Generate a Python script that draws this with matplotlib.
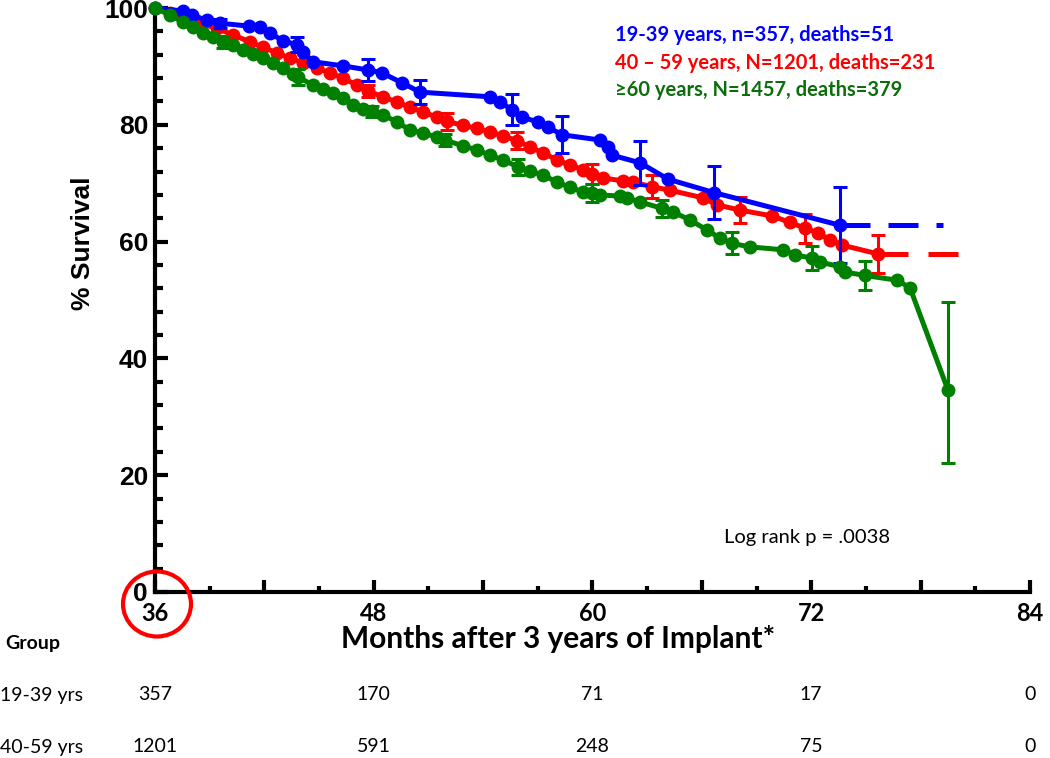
import matplotlib
matplotlib.use("Agg")
import matplotlib.pyplot as plt
from matplotlib.patches import Ellipse
import matplotlib.transforms as mtransforms

# survival curves (months, % survival)
blue_t = [36.0, 37.54, 38.03, 38.85, 39.57, 41.16, 41.76, 42.31, 43.02, 43.79, 44.12, 44.67,
          46.31, 47.68, 48.45, 49.55, 50.54, 54.38, 54.92, 55.58, 56.13, 57.01, 57.56, 58.33,
          60.41, 60.85, 61.07, 62.61, 64.14, 66.66, 73.58]
blue_s = [100, 99.5, 98.8, 97.9, 97.4, 96.9, 96.7, 95.7, 94.4, 93.7, 92.5, 90.8,
          90.1, 89.4, 88.9, 87.2, 85.6, 84.8, 83.9, 82.6, 81.3, 80.5, 79.6, 78.3,
          77.4, 76.2, 74.8, 73.5, 70.7, 68.4, 62.8]
blue_end = 79.23

red_t = [36.0, 36.82, 37.54, 38.47, 39.40, 40.28, 41.21, 41.92, 42.69, 43.41, 44.12, 44.89,
         45.60, 46.31, 47.08, 47.68, 48.51, 49.27, 49.99, 50.70, 51.47, 52.02, 52.90, 53.66,
         54.38, 55.09, 55.86, 56.57, 57.28, 58.05, 58.76, 59.48, 59.97, 60.58, 61.67, 62.22,
         63.26, 64.25, 66.06, 66.83, 68.09, 69.85, 70.83, 71.66, 72.37, 73.03, 73.69, 75.66]
red_s = [100, 99.1, 98.2, 97.4, 96.5, 95.4, 94.2, 93.3, 92.3, 91.4, 90.6, 89.7,
         88.9, 88.0, 86.8, 85.8, 84.8, 83.9, 83.0, 82.2, 81.3, 80.6, 79.9, 79.4,
         78.8, 78.1, 77.3, 76.2, 75.2, 74.0, 73.1, 72.3, 71.6, 70.9, 70.4, 70.2,
         69.4, 68.8, 67.5, 66.3, 65.4, 64.4, 63.3, 62.3, 61.5, 60.3, 59.4, 57.9]
red_end = 80.05

green_t = [36.0, 36.82, 37.54, 38.08, 38.63, 39.18, 39.73, 40.28, 40.83, 41.38, 41.92, 42.47,
           43.02, 43.57, 43.84, 44.67, 45.22, 45.76, 46.31, 46.86, 47.41, 47.90, 48.51, 49.27,
           49.99, 50.70, 51.47, 51.91, 52.90, 53.66, 54.38, 55.09, 55.91, 56.57, 57.28, 58.05,
           58.76, 59.48, 59.97, 60.41, 61.51, 61.89, 62.61, 63.81, 64.41, 65.35, 66.28, 66.99,
           67.65, 68.64, 70.45, 71.11, 72.04, 72.48, 73.58, 73.85, 74.95, 76.70, 77.42, 79.50]
green_s = [100, 98.8, 97.6, 96.7, 95.7, 95.0, 94.2, 93.7, 92.8, 92.1, 91.4, 90.6,
           89.7, 88.7, 88.2, 86.8, 86.1, 85.4, 84.6, 83.4, 82.7, 82.3, 81.7, 80.5,
           79.1, 78.6, 77.9, 77.4, 76.4, 75.7, 74.8, 74.0, 72.8, 72.1, 71.4, 70.2,
           69.3, 68.5, 68.3, 68.0, 67.8, 67.5, 66.8, 65.7, 65.1, 63.7, 62.0, 60.6,
           59.7, 59.1, 58.6, 57.7, 57.2, 56.5, 55.7, 54.8, 54.2, 53.4, 52.1, 34.6]

# error bars (month, value, lower, upper)
blue_err_t = [39.57, 43.79, 47.68, 50.54, 55.58, 58.33, 62.61, 66.66, 73.58]
blue_err_s = [97.4, 93.7, 89.4, 85.6, 82.6, 78.3, 73.5, 68.4, 62.8]
blue_err_lo = [0.8, 1.3, 1.9, 2.1, 2.7, 3.2, 3.8, 4.5, 6.5]
blue_err_hi = [0.8, 1.3, 1.9, 2.1, 2.7, 3.2, 3.8, 4.5, 6.5]

red_err_t = [47.68, 52.02, 55.86, 59.97, 63.26, 68.09, 71.66, 75.66]
red_err_s = [85.8, 80.6, 77.3, 71.6, 69.4, 65.4, 62.3, 57.9]
red_err_lo = [1.1, 1.5, 1.5, 1.7, 2.0, 2.2, 2.5, 3.2]
red_err_hi = [1.1, 1.5, 1.5, 1.7, 2.0, 2.2, 2.5, 3.2]

green_err_t = [39.73, 43.84, 47.90, 51.91, 55.91, 59.97, 63.81, 67.65, 72.04, 74.95, 79.50]
green_err_s = [94.2, 88.2, 82.3, 77.4, 72.8, 68.3, 65.7, 59.7, 57.2, 54.2, 34.6]
green_err_lo = [1.0, 1.4, 0.9, 1.0, 1.4, 1.5, 1.5, 1.9, 2.0, 2.4, 12.5]
green_err_hi = [1.0, 1.4, 0.9, 1.0, 1.4, 1.5, 1.5, 1.9, 2.0, 2.4, 15.1]

legend_lines = ["19-39 years, n=357, deaths=51",
                "40 \u2013 59 years, N=1201, deaths=231",
                "\u226560 years, N=1457, deaths=379"]

# numbers at risk
risk_months = [36, 48, 60, 72, 84]
risk_1939 = ["357", "170", "71", "17", "0"]
risk_4059 = ["1201", "591", "248", "75", "0"]

BLUE = "#0000FF"
RED = "#FF0000"
GREEN = "#008000"
LEG_GREEN = "#0B6E0B"

fig = plt.figure(figsize=(10.5, 7.58), dpi=100)
ax = fig.add_axes([0.1476, 0.2190, 0.8333, 0.7704])

lw = 3.6
ms = 9
ax.plot(red_t, red_s, "-o", color=RED, lw=lw, ms=ms, zorder=2, clip_on=False)
ax.plot([red_t[-1], red_end], [red_s[-1], red_s[-1]], color=RED, lw=lw,
        dashes=(6.0, 4.0), zorder=2, clip_on=False)
ax.errorbar(red_err_t, red_err_s, yerr=[red_err_lo, red_err_hi], fmt="none",
            ecolor=RED, elinewidth=2.2, capsize=5, capthick=2.2, zorder=2)

ax.plot(blue_t, blue_s, "-o", color=BLUE, lw=lw, ms=ms, zorder=3, clip_on=False)
ax.plot([blue_t[-1], blue_end], [blue_s[-1], blue_s[-1]], color=BLUE, lw=lw,
        dashes=(6.0, 3.6), zorder=3, clip_on=False)
ax.errorbar(blue_err_t, blue_err_s, yerr=[blue_err_lo, blue_err_hi], fmt="none",
            ecolor=BLUE, elinewidth=2.2, capsize=5, capthick=2.2, zorder=3)

ax.plot(green_t, green_s, "-o", color=GREEN, lw=lw, ms=ms, zorder=4, clip_on=False)
ax.errorbar(green_err_t, green_err_s, yerr=[green_err_lo, green_err_hi], fmt="none",
            ecolor=GREEN, elinewidth=2.2, capsize=5, capthick=2.2, zorder=4)

ax.set_xlim(36, 84)
ax.set_ylim(0, 100)
for s in ["top", "right"]:
    ax.spines[s].set_visible(False)
for s in ["left", "bottom"]:
    ax.spines[s].set_linewidth(3)

ax.set_yticks([0, 20, 40, 60, 80, 100])
ax.set_yticks(range(0, 101, 4), minor=True)
ax.set_xticks(range(36, 85, 6))
ax.set_xticklabels([str(m) if m % 12 == 0 else "" for m in range(36, 85, 6)])
ax.set_xticks(range(39, 85, 6), minor=True)
ax.tick_params(axis="both", which="major", direction="in", width=3, length=9)
ax.tick_params(axis="x", which="minor", direction="in", width=3, length=4.5)
ax.tick_params(axis="y", which="minor", direction="in", width=3, length=6)
ax.tick_params(axis="y", pad=5)
ax.tick_params(axis="x", pad=7.5)
for lab in ax.get_yticklabels():
    lab.set_fontfamily("Liberation Sans")
    lab.set_fontweight("bold")
    lab.set_fontsize(19)
for lab in ax.get_xticklabels():
    lab.set_fontfamily("Lato")
    lab.set_fontweight("bold")
    lab.set_fontsize(17)

fig.text(83 / 1050, 1 - 243 / 758, "% Survival", rotation=90, ha="center", va="center",
         fontsize=19, fontweight="bold", family="Liberation Sans")
fig.text(558 / 1050, 1 - 639 / 758, "Months after 3 years of Implant*", ha="center",
         va="center", fontsize=21.5, fontweight="bold", family=["Lato", "DejaVu Sans"])

leg_colors = [BLUE, RED, LEG_GREEN]
leg_y = [35, 63, 90]
for txt, c, y in zip(legend_lines, leg_colors, leg_y):
    fig.text(615 / 1050, 1 - y / 758, txt, color=c, ha="left", va="center",
             fontsize=14.5, fontweight="bold", family=["Lato", "DejaVu Sans"])

fig.text(807 / 1050, 1 - 537 / 758, "Log rank p = .0038", ha="center", va="center",
         fontsize=14.5, family="Lato")

# red ring around the origin
fig.patches.append(Ellipse((157 / 1050, 1 - 604 / 758), 68 / 1050, 65 / 758,
                           transform=fig.transFigure, fill=False, ec=RED, lw=3))

# numbers-at-risk table
trans = mtransforms.blended_transform_factory(ax.transData, fig.transFigure)
fig.text(5 / 1050, 1 - 643 / 758, "Group", ha="left", va="center", fontsize=14,
         fontweight="bold", family="Lato")
fig.text(0, 1 - 695 / 758, "19-39 yrs", ha="left", va="center", fontsize=14, family="Lato")
fig.text(0, 1 - 747 / 758, "40-59 yrs", ha="left", va="center", fontsize=14, family="Lato")
for m, a, b in zip(risk_months, risk_1939, risk_4059):
    ax.text(m, 1 - 695 / 758, a, transform=trans, ha="center", va="center",
            fontsize=14, family="Lato", clip_on=False)
    ax.text(m, 1 - 747 / 758, b, transform=trans, ha="center", va="center",
            fontsize=14, family="Lato", clip_on=False)

fig.savefig("out.png", dpi=100)
